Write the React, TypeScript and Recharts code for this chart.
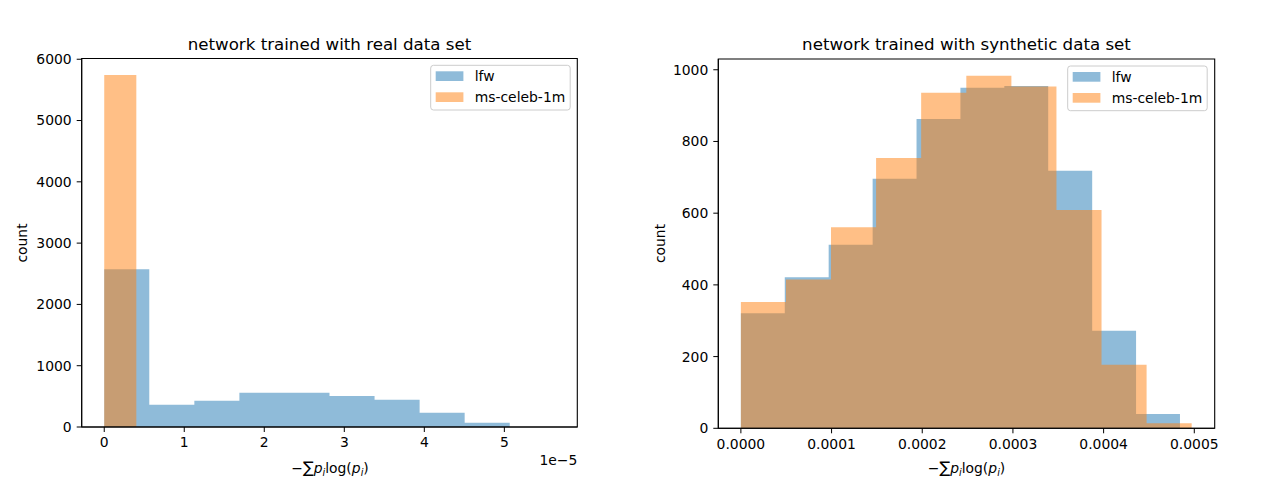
import { ComposedChart, Area, XAxis, YAxis, ReferenceArea } from 'recharts';

// left panel: x in units of 1e-5
const realLfwEdges = [0, 0.563, 1.126, 1.689, 2.252, 2.815, 3.378, 3.941, 4.504, 5.067, 5.63];
const realLfwCounts = [2575, 364, 429, 560, 560, 505, 445, 234, 71, 2];
const realCelebEdges = [0, 0.401, 0.802, 1.203, 1.604, 2.005, 2.406, 2.807, 3.208, 3.609, 4.01];
const realCelebCounts = [5742, 0, 0, 0, 0, 0, 0, 0, 0, 0];
const realXTicks = [0, 1, 2, 3, 4, 5];
const realYTicks = [0, 1000, 2000, 3000, 4000, 5000, 6000];

// right panel
const synLfwEdges = [0, 0.0000484, 0.0000968, 0.0001453, 0.0001937, 0.0002421, 0.0002905, 0.0003389, 0.0003874, 0.0004358, 0.0004842];
const synLfwCounts = [321, 421, 512, 696, 863, 950, 955, 718, 272, 40];
const synCelebEdges = [0, 0.0000497, 0.0000994, 0.0001491, 0.0001988, 0.0002486, 0.0002983, 0.000348, 0.0003977, 0.0004474, 0.0004971];
const synCelebCounts = [352, 415, 561, 754, 936, 983, 953, 609, 177, 14];
const synXTicks = [0, 0.0001, 0.0002, 0.0003, 0.0004, 0.0005];
const synYTicks = [0, 200, 400, 600, 800, 1000];

const FONT = 'DejaVu Sans, sans-serif';
const BLUE = '#1f77b4';
const ORANGE = '#ff7f0e';

// bin edges + counts -> step points (last edge repeats last count)
const toSteps = (edges: number[], counts: number[]) =>
  edges.map((x, i) => ({ x, y: counts[Math.min(i, counts.length - 1)] }));

type PanelProps = {
  left: number;
  margin: { top: number; right: number; bottom: number; left: number };
  xDomain: [number, number];
  yDomain: [number, number];
  xTicks: number[];
  yTicks: number[];
  lfw: { x: number; y: number }[];
  celeb: { x: number; y: number }[];
  fmt?: (v: number) => string;
};

const tickStyle = { fontSize: 13.9, fill: '#000', fontFamily: FONT };

const Panel = ({ left, margin, xDomain, yDomain, xTicks, yTicks, lfw, celeb, fmt }: PanelProps) => (
  <div style={{ position: 'absolute', left, top: 0 }}>
    <ComposedChart width={640} height={480} margin={margin}>
      <XAxis
        type="number"
        dataKey="x"
        domain={xDomain}
        ticks={xTicks}
        allowDataOverflow
        height={30}
        tickSize={5}
        tickMargin={5.5}
        tick={tickStyle}
        tickFormatter={fmt}
        axisLine={{ stroke: '#000' }}
        tickLine={{ stroke: '#000' }}
      />
      <YAxis
        type="number"
        dataKey="y"
        domain={yDomain}
        ticks={yTicks}
        allowDataOverflow
        width={60}
        tickSize={5}
        tickMargin={5}
        tick={tickStyle}
        axisLine={{ stroke: '#000' }}
        tickLine={{ stroke: '#000' }}
      />
      <Area data={lfw} dataKey="y" type="stepAfter" fill={BLUE} fillOpacity={0.5} stroke="none" dot={false} activeDot={false} isAnimationActive={false} />
      <Area data={celeb} dataKey="y" type="stepAfter" fill={ORANGE} fillOpacity={0.5} stroke="none" dot={false} activeDot={false} isAnimationActive={false} />
      <ReferenceArea x1={xDomain[0]} x2={xDomain[1]} y1={yDomain[0]} y2={yDomain[1]} fill="none" stroke="#000" strokeWidth={1.1} ifOverflow="visible" />
    </ComposedChart>
  </div>
);

const XLabel = ({ x }: { x: number }) => (
  <text x={x} y={473} textAnchor="middle" fontSize={13.9} fontFamily={FONT} fill="#000">
    <tspan>−</tspan>
    <tspan fontSize={16}>∑</tspan>
    <tspan fontStyle="italic">p</tspan>
    <tspan fontStyle="italic" fontSize={9.7} dy={3}>i</tspan>
    <tspan dy={-3}>log(</tspan>
    <tspan fontStyle="italic">p</tspan>
    <tspan fontStyle="italic" fontSize={9.7} dy={3}>i</tspan>
    <tspan dy={-3}>)</tspan>
  </text>
);

const Legend = ({ x, y }: { x: number; y: number }) => (
  <g>
    <rect x={x} y={y} width={139.5} height={44.7} rx={2.8} fill="#fff" fillOpacity={0.8} stroke="#cccccc" />
    <rect x={x + 5} y={y + 6} width={27.7} height={9.7} fill={BLUE} fillOpacity={0.5} />
    <rect x={x + 5} y={y + 27} width={27.7} height={9.7} fill={ORANGE} fillOpacity={0.5} />
    <text x={x + 44} y={y + 15.8} fontSize={13.9} fontFamily={FONT}>lfw</text>
    <text x={x + 44} y={y + 36.8} fontSize={13.9} fontFamily={FONT}>ms-celeb-1m</text>
  </g>
);

export default function App() {
  return (
    <div style={{ position: 'absolute', left: 0, top: 0, width: 1280, height: 480, background: '#fff' }}>
      <Panel
        left={0}
        margin={{ top: 58.5, right: 62.7, bottom: 23, left: 21.7 }}
        xDomain={[-0.2816, 5.9116]}
        yDomain={[0, 6012]}
        xTicks={realXTicks}
        yTicks={realYTicks}
        lfw={toSteps(realLfwEdges, realLfwCounts)}
        celeb={toSteps(realCelebEdges, realCelebCounts)}
      />
      <Panel
        left={640}
        margin={{ top: 59, right: 65.3, bottom: 21.7, left: 18.3 }}
        xDomain={[-0.0000249, 0.0005225]}
        yDomain={[0, 1030]}
        xTicks={synXTicks}
        yTicks={synYTicks}
        lfw={toSteps(synLfwEdges, synLfwCounts)}
        celeb={toSteps(synCelebEdges, synCelebCounts)}
        fmt={(v: number) => v.toFixed(4)}
      />
      <svg width={1280} height={480} style={{ position: 'absolute', left: 0, top: 0, pointerEvents: 'none' }}>
        <text x={329.5} y={49.7} textAnchor="middle" fontSize={16.67} fontFamily={FONT}>network trained with real data set</text>
        <text x={966.5} y={49.7} textAnchor="middle" fontSize={16.67} fontFamily={FONT}>network trained with synthetic data set</text>
        <text transform="translate(27,243) rotate(-90)" textAnchor="middle" fontSize={13.9} fontFamily={FONT}>count</text>
        <text transform="translate(665,243.5) rotate(-90)" textAnchor="middle" fontSize={13.9} fontFamily={FONT}>count</text>
        <XLabel x={330} />
        <XLabel x={966.5} />
        <text x={577.3} y={465} textAnchor="end" fontSize={13.9} fontFamily={FONT}>1e−5</text>
        <Legend x={430.7} y={65.3} />
        <Legend x={1067.7} y={66} />
      </svg>
    </div>
  );
}
